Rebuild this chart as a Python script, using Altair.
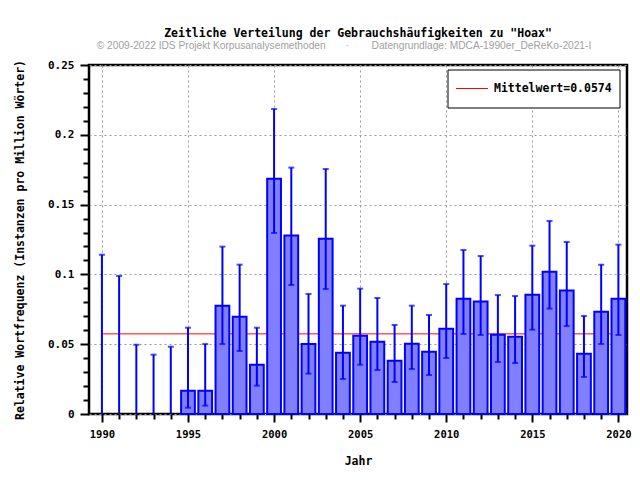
import altair as alt
import pandas as pd

years = list(range(1990, 2021))
values = [0, 0, 0, 0, 0, 0.0167, 0.0167, 0.0776, 0.0697, 0.0353,
          0.1686, 0.1278, 0.0501, 0.1256, 0.0439, 0.0561, 0.0518, 0.0382, 0.0504, 0.0446,
          0.0611, 0.0826, 0.0805, 0.0568, 0.0554, 0.0855, 0.1019, 0.0884, 0.0432, 0.0733,
          0.0826]
lower = [0, 0, 0, 0, 0, 0.0045, 0.0060, 0.0501, 0.0451, 0.0203,
         0.1297, 0.0924, 0.0289, 0.0895, 0.0251, 0.0353, 0.0315, 0.0229, 0.0322, 0.0279,
         0.0401, 0.0573, 0.0566, 0.0372, 0.0365, 0.0604, 0.0755, 0.0630, 0.0265, 0.0501,
         0.0566]
upper = [0.1141, 0.0989, 0.0496, 0.0425, 0.0482, 0.0618, 0.0501, 0.1199, 0.1070, 0.0618,
         0.2185, 0.1765, 0.0860, 0.1755, 0.0776, 0.0898, 0.0831, 0.0638, 0.0776, 0.0709,
         0.0931, 0.1175, 0.1132, 0.0852, 0.0845, 0.1206, 0.1383, 0.1232, 0.0702, 0.1070,
         0.1213]
mean_value = 0.0574
mean_label = "Mittelwert=0.0574"

title_text = 'Zeitliche Verteilung der Gebrauchshäufigkeiten zu "Hoax"'
NB = "\u00a0"
subtitle_text = ("© 2009-2022 IDS Projekt Korpusanalysemethoden" + NB * 7 + "·" + NB * 8 +
                 "Datengrundlage: MDCA-1990er_DeReKo-2021-I")

df = pd.DataFrame({"Jahr": years, "wert": values, "lo": lower, "hi": upper})
mean_df = pd.DataFrame({"start": [years[0]], "end": [years[-1]], "m": [mean_value],
                        "label": [mean_label], "sub": [subtitle_text]})

MONO = "DejaVu Sans Mono"
BLUE = "#0000ff"
RED = "#ff0000"

x_scale = alt.Scale(domain=[1989.25, 2020.5], nice=False, zero=False)
y_scale = alt.Scale(domain=[0, 0.25], nice=False)

x_major = "datum.value % 5 == 0"
y_major = "abs(round(datum.value * 100) % 5) == 0"

x_axis = alt.Axis(
    title="Jahr", values=years,
    labelExpr="datum.value % 5 == 0 ? format(datum.value, 'd') : ''",
    tickSize={"condition": {"test": x_major, "value": 8}, "value": 5},
    gridOpacity={"condition": {"test": x_major, "value": 1}, "value": 0},
    labelPadding=7, titlePadding=16, labelOverlap=False, labelFontSize=10.5,
)
y_axis = alt.Axis(
    title="Relative Wortfrequenz (Instanzen pro Million Wörter)",
    values=[i / 100 for i in range(26)],
    labelExpr="abs(round(datum.value * 100) % 5) == 0 ? format(datum.value, '~g') : ''",
    tickSize={"condition": {"test": y_major, "value": 9}, "value": 6},
    gridOpacity={"condition": {"test": y_major, "value": 1}, "value": 0},
    labelPadding=6, titlePadding=22, labelOverlap=False,
)

def X(field):
    return alt.X(field, scale=x_scale, axis=x_axis)

def Y(field):
    return alt.Y(field, scale=y_scale, axis=y_axis)

base = alt.Chart(df)

mean_rule = alt.Chart(mean_df).mark_rule(strokeWidth=1, color=RED).encode(
    x=X("start:Q"),
    x2="end:Q",
    y=Y("m:Q"),
)

bars = base.transform_filter("datum.wert > 0").transform_calculate(
    x0="datum.Jahr - 0.4", x1="datum.Jahr + 0.4"
).mark_bar(color="#8080ff", stroke=BLUE, strokeWidth=2).encode(
    x=X("x0:Q"),
    x2="x1:Q",
    y=Y("wert:Q"),
    y2=alt.datum(0),
)

err = base.mark_rule(color=BLUE, strokeWidth=2).encode(
    x=X("Jahr:Q"),
    y=Y("lo:Q"),
    y2="hi:Q",
)
cap_hi = base.mark_tick(color=BLUE, size=6, thickness=2, orient="horizontal").encode(
    x=X("Jahr:Q"),
    y=Y("hi:Q"),
)
cap_lo = base.transform_filter("datum.lo > 0").mark_tick(
    color=BLUE, size=6, thickness=2, orient="horizontal").encode(
    x=X("Jahr:Q"),
    y=Y("lo:Q"),
)

# legend box (drawn as layered marks)
leg = alt.Chart(mean_df)
leg_box = leg.mark_rect(fill="white", stroke="black", strokeWidth=1).encode(
    x=alt.value(359), x2=alt.value(531), y=alt.value(5), y2=alt.value(43))
leg_line = leg.mark_rule(color=RED, strokeWidth=1).encode(
    x=alt.value(367), x2=alt.value(399), y=alt.value(23.5))
leg_text = leg.mark_text(align="left", baseline="middle", font=MONO, fontWeight="bold",
                         fontSize=11.5, color="black").encode(
    x=alt.value(405), y=alt.value(24), text="label:N")

# copyright / source line under the title
sub_text = leg.mark_text(align="center", baseline="middle", font="Liberation Sans",
                         fontSize=10.2, color="#a0a0a0").encode(
    x=alt.value(255), y=alt.value(-19), text="sub:N")

chart = alt.layer(mean_rule, bars, err, cap_hi, cap_lo, leg_box, leg_line, leg_text,
                  sub_text).properties(
    width=538, height=349,
    background="white",
    autosize=alt.AutoSizeParams(type="none"),
    padding={"left": 81, "top": 57, "right": 5, "bottom": 58},
    title=alt.TitleParams(text=title_text, anchor="middle",
                          font=MONO, fontSize=11.5, fontWeight="bold", color="black",
                          offset=2),
).configure_view(
    stroke="black", strokeWidth=2.5
).configure_axis(
    domain=False, grid=True, gridColor="#999999", gridDash=[2, 3], gridWidth=1,
    tickColor="black", tickWidth=2,
    labelFont=MONO, labelFontWeight="bold", labelFontSize=11, labelColor="black",
    titleFont=MONO, titleFontWeight="bold", titleFontSize=11.5, titleColor="black",
)

chart.save("out.html", embed_options={"renderer": "svg", "actions": False})
